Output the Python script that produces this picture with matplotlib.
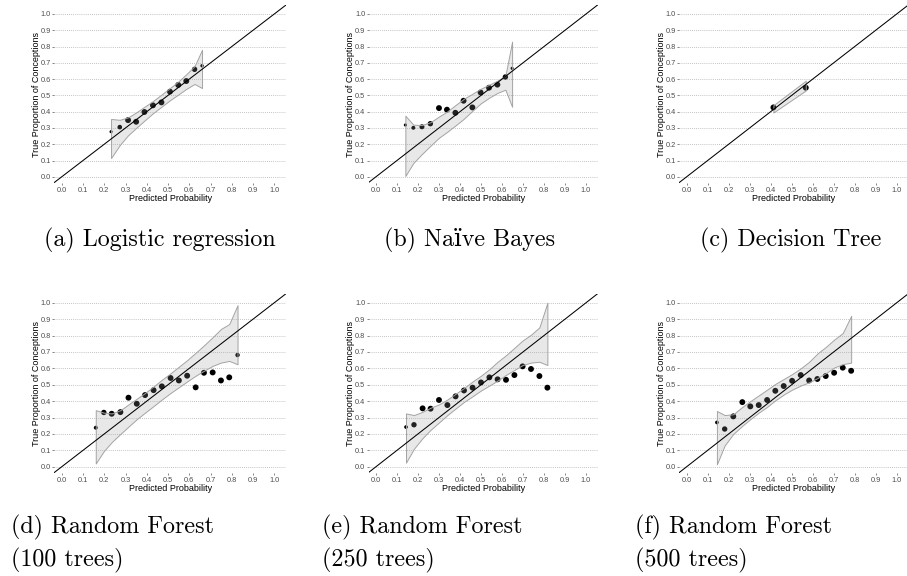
import numpy as np
import matplotlib
matplotlib.use('Agg')
from matplotlib import pyplot as plt

# calibration bins read off the reference: predicted prob, observed proportion,
# band (lower/upper) and marker size per bin
lr_x = [0.232, 0.273, 0.312, 0.350, 0.389, 0.429, 0.469, 0.509, 0.548, 0.586, 0.625, 0.660]
lr_y = [0.277, 0.305, 0.348, 0.338, 0.398, 0.439, 0.457, 0.523, 0.564, 0.588, 0.660, 0.682]
lr_lo = [0.115, 0.195, 0.255, 0.300, 0.345, 0.390, 0.430, 0.470, 0.505, 0.540, 0.570, 0.545]
lr_hi = [0.355, 0.350, 0.365, 0.395, 0.430, 0.465, 0.505, 0.545, 0.585, 0.630, 0.680, 0.780]
lr_s = [5, 11, 18, 18, 18, 18, 18, 18, 18, 18, 15, 6]

nb_x = [0.140, 0.178, 0.219, 0.259, 0.300, 0.338, 0.378, 0.417, 0.459, 0.498, 0.538, 0.578, 0.616, 0.648]
nb_y = [0.318, 0.301, 0.307, 0.326, 0.422, 0.412, 0.393, 0.467, 0.426, 0.518, 0.547, 0.566, 0.613, 0.666]
nb_lo = [0.005, 0.085, 0.140, 0.190, 0.240, 0.275, 0.315, 0.355, 0.405, 0.450, 0.485, 0.515, 0.535, 0.430]
nb_hi = [0.375, 0.320, 0.318, 0.335, 0.370, 0.400, 0.440, 0.478, 0.510, 0.540, 0.565, 0.590, 0.620, 0.830]
nb_s = [5, 8, 13, 15, 18, 18, 18, 18, 18, 18, 18, 18, 15, 5]

dt_x = [0.413, 0.567]
dt_y = [0.426, 0.547]
dt_lo = [0.395, 0.530]
dt_hi = [0.440, 0.590]
dt_s = [18, 18]

rf100_x = [0.160, 0.198, 0.235, 0.276, 0.314, 0.353, 0.392, 0.432, 0.471, 0.512, 0.551, 0.590,
           0.630, 0.669, 0.710, 0.749, 0.788, 0.827]
rf100_y = [0.238, 0.331, 0.323, 0.333, 0.421, 0.384, 0.437, 0.467, 0.490, 0.541, 0.526, 0.555,
           0.484, 0.573, 0.575, 0.526, 0.545, 0.681]
rf100_lo = [0.020, 0.095, 0.150, 0.200, 0.245, 0.290, 0.330, 0.370, 0.410, 0.450, 0.485, 0.520,
            0.555, 0.585, 0.615, 0.635, 0.645, 0.625]
rf100_hi = [0.345, 0.330, 0.325, 0.345, 0.380, 0.415, 0.450, 0.490, 0.530, 0.570, 0.610, 0.650,
            0.695, 0.740, 0.790, 0.840, 0.870, 0.985]
rf100_s = [8, 15, 18, 18, 18, 18, 18, 18, 18, 18, 18, 18, 18, 18, 18, 18, 18, 10]

rf250_x = [0.143, 0.181, 0.222, 0.260, 0.300, 0.340, 0.379, 0.419, 0.460, 0.500, 0.540, 0.579,
           0.619, 0.659, 0.698, 0.738, 0.778, 0.816]
rf250_y = [0.242, 0.256, 0.356, 0.354, 0.407, 0.376, 0.429, 0.465, 0.482, 0.514, 0.545, 0.533,
           0.530, 0.559, 0.612, 0.596, 0.553, 0.482]
rf250_lo = [0.025, 0.110, 0.175, 0.225, 0.270, 0.315, 0.355, 0.395, 0.430, 0.465, 0.495, 0.525,
            0.560, 0.590, 0.620, 0.635, 0.640, 0.620]
rf250_hi = [0.325, 0.315, 0.335, 0.360, 0.380, 0.410, 0.445, 0.480, 0.520, 0.555, 0.595, 0.640,
            0.680, 0.725, 0.770, 0.805, 0.850, 1.000]
rf250_s = [7, 15, 18, 18, 18, 18, 18, 18, 18, 18, 18, 18, 18, 18, 18, 18, 18, 18]

rf500_x = [0.144, 0.181, 0.222, 0.265, 0.303, 0.343, 0.383, 0.422, 0.462, 0.502, 0.543, 0.583,
           0.622, 0.662, 0.702, 0.743, 0.783]
rf500_y = [0.270, 0.230, 0.307, 0.394, 0.368, 0.376, 0.407, 0.463, 0.492, 0.524, 0.559, 0.526,
           0.535, 0.553, 0.573, 0.604, 0.585]
rf500_lo = [0.015, 0.130, 0.200, 0.250, 0.290, 0.330, 0.365, 0.405, 0.440, 0.470, 0.495, 0.515,
            0.540, 0.570, 0.605, 0.625, 0.635]
rf500_hi = [0.340, 0.315, 0.320, 0.365, 0.400, 0.435, 0.470, 0.505, 0.535, 0.565, 0.600, 0.640,
            0.690, 0.730, 0.775, 0.815, 0.920]
rf500_s = [7, 15, 18, 18, 18, 18, 18, 18, 18, 18, 18, 18, 18, 18, 18, 18, 18]

ticks = [0.0, 0.1, 0.2, 0.3, 0.4, 0.5, 0.6, 0.7, 0.8, 0.9, 1.0]
tick_labels = ['0.0', '0.1', '0.2', '0.3', '0.4', '0.5', '0.6', '0.7', '0.8', '0.9', '1.0']

panels = [
    (lr_x, lr_y, lr_lo, lr_hi, lr_s),
    (nb_x, nb_y, nb_lo, nb_hi, nb_s),
    (dt_x, dt_y, dt_lo, dt_hi, dt_s),
    (rf100_x, rf100_y, rf100_lo, rf100_hi, rf100_s),
    (rf250_x, rf250_y, rf250_lo, rf250_hi, rf250_s),
    (rf500_x, rf500_y, rf500_lo, rf500_hi, rf500_s),
]

top_captions = ['(a) Logistic regression', '(b) Naïve Bayes', '(c) Decision Tree']
bottom_captions = [('(d) Random Forest', '(100 trees)'),
                   ('(e) Random Forest', '(250 trees)'),
                   ('(f) Random Forest', '(500 trees)')]

W, H = 907, 576
fig = plt.figure(figsize=(W / 100, H / 100), dpi=100)

col_left = [54.3, 368.6, 679.3]
col_width = [231.7, 229.0, 229.0]
row_top = [5.0, 293.7]
row_bottom = [183.3, 473.3]

SANS = 'Liberation Sans'
SERIF = ['cmr10', 'DejaVu Serif']

for i, (px, py, lo, hi, sz) in enumerate(panels):
    r, c = divmod(i, 3)
    ax = fig.add_axes([col_left[c] / W, 1 - row_bottom[r] / H,
                       col_width[c] / W, (row_bottom[r] - row_top[r]) / H])
    ax.scatter(px, py, s=sz, color='black', linewidths=0, zorder=2)
    ax.fill_between(px, lo, hi, facecolor=(0.6, 0.6, 0.6, 0.22),
                    edgecolor='#a3a3a3', linewidth=0.7, zorder=3)
    ax.axline((0, 0), slope=1, color='black', linewidth=0.75, zorder=4)
    ax.set_xlim(-0.035, 1.055)
    ax.set_ylim(-0.04, 1.055)
    ax.set_xticks(ticks)
    ax.set_xticklabels(tick_labels, family=SANS)
    ax.set_yticks(ticks)
    ax.set_yticklabels(tick_labels, family=SANS)
    ax.yaxis.grid(True, linestyle=(0, (1, 1.5)), color='#b0b0b0', linewidth=0.6)
    ax.set_axisbelow(True)
    for sp in ax.spines.values():
        sp.set_visible(False)
    ax.tick_params(labelsize=5.3, labelcolor='#4d4d4d', color='#555555',
                   length=1.6, width=0.5, pad=0.8)
    ax.set_xlabel('Predicted Probability', family=SANS, fontsize=6.5, labelpad=0)
    ax.set_ylabel('True Proportion of Conceptions', family=SANS, fontsize=6.5, labelpad=0)

top_cx = [160, 470, 791]
for cx, txt in zip(top_cx, top_captions):
    fig.text(cx / W, 1 - 240 / H, txt, family=SERIF, fontsize=17.3,
             ha='center', va='center')

bot_lx = [11, 322, 635]
for lx, (l1, l2) in zip(bot_lx, bottom_captions):
    fig.text(lx / W, 1 - 527 / H, l1, family=SERIF, fontsize=17.3, ha='left', va='center')
    fig.text(lx / W, 1 - 560 / H, l2, family=SERIF, fontsize=17.3, ha='left', va='center')

fig.savefig('out.png', dpi=100)
